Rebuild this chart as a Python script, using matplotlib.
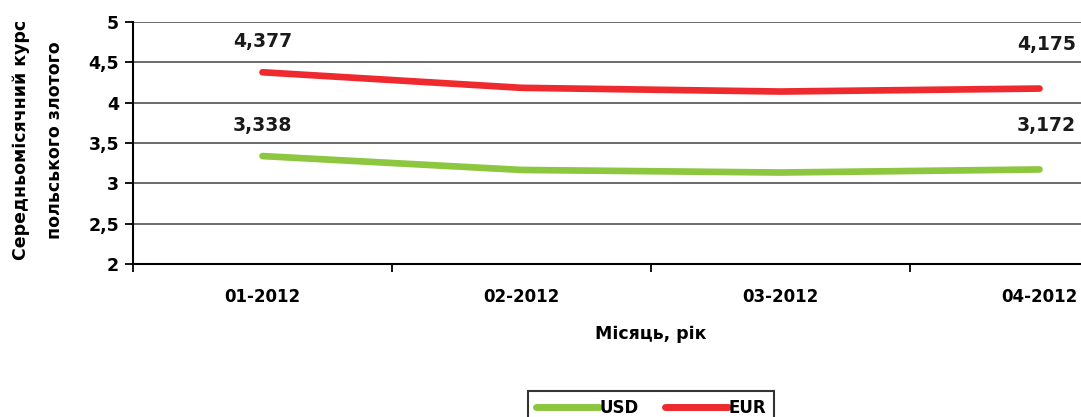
import matplotlib
matplotlib.use("Agg")
import matplotlib.pyplot as plt
from matplotlib.lines import Line2D

# --- data ---
months = ["01-2012", "02-2012", "03-2012", "04-2012"]
eur = [4.377, 4.184, 4.138, 4.175]
usd = [3.338, 3.166, 3.134, 3.172]
yticks = [2, 2.5, 3, 3.5, 4, 4.5, 5]
ytick_labels = ["2", "2,5", "3", "3,5", "4", "4,5", "5"]

green = "#8dc63f"
red = "#ee2a2e"

fig = plt.figure(figsize=(10.81, 4.17), dpi=100)
# axes runs past the right edge of the figure, like the cropped original
ax = fig.add_axes([133 / 1081, 153 / 417, 1036 / 1081, 242 / 417])

x = list(range(len(months)))
ax.plot(x, usd, color=green, lw=4.8, solid_capstyle="round", zorder=3)
ax.plot(x, eur, color=red, lw=4.8, solid_capstyle="round", zorder=3)

# data labels on first and last points (last ones sit a bit higher)
label_offsets = {0: (0, 15), len(x) - 1: (5, 25)}
for i, off in label_offsets.items():
    for vals in (eur, usd):
        ax.annotate(f"{vals[i]:.3f}".replace(".", ","), (x[i], vals[i]),
                    xytext=off, textcoords="offset points",
                    ha="center", va="bottom", fontsize=13.5, fontweight="bold",
                    color="#1a1a1a")

ax.set_xlim(-0.5, len(months) - 0.5)
ax.set_ylim(2, 5)
ax.set_yticks(yticks)
ax.set_yticklabels(ytick_labels, fontsize=12.5, fontweight="bold")
ax.yaxis.grid(True, color="#6a6a6a", lw=1.4)
ax.set_axisbelow(True)

# category ticks between labels
ax.set_xticks([i - 0.5 for i in range(len(months) + 1)])
ax.set_xticklabels([])
ax.set_xticks(x, minor=True)
ax.set_xticklabels(months, minor=True, fontsize=12, fontweight="bold")
ax.tick_params(axis="x", which="minor", length=0, pad=17)
ax.tick_params(axis="x", which="major", length=6, width=1.3, direction="out")
ax.tick_params(axis="y", length=6, width=1.3, direction="out", pad=4)

for s in ("top", "right"):
    ax.spines[s].set_visible(False)
for s in ("left", "bottom"):
    ax.spines[s].set_linewidth(1.5)
    ax.spines[s].set_color("black")

fig.text(651 / 1081, 1 - 334 / 417, "Місяць, рік", ha="center", va="center",
         fontsize=12.5, fontweight="bold")
fig.text(21 / 1081, 1 - 140 / 417, "Середньомісячний курс", rotation=90,
         ha="center", va="center", fontsize=12.5, fontweight="bold")
fig.text(55 / 1081, 1 - 140 / 417, "польського злотого", rotation=90,
         ha="center", va="center", fontsize=12.5, fontweight="bold")

handles = [Line2D([], [], color=green, lw=5, solid_capstyle="round"),
           Line2D([], [], color=red, lw=5, solid_capstyle="round")]
leg = fig.legend(handles, ["USD", "EUR"], loc="upper center",
                 bbox_to_anchor=(651 / 1081, 1 - 383 / 417), ncol=2,
                 frameon=True, fancybox=False, handlelength=3.8,
                 handletextpad=0.0, columnspacing=1.6, borderpad=0.45,
                 prop={"size": 12, "weight": "bold"})
leg.get_frame().set_edgecolor("black")
leg.get_frame().set_linewidth(1.5)

fig.savefig("out.png", dpi=100)
